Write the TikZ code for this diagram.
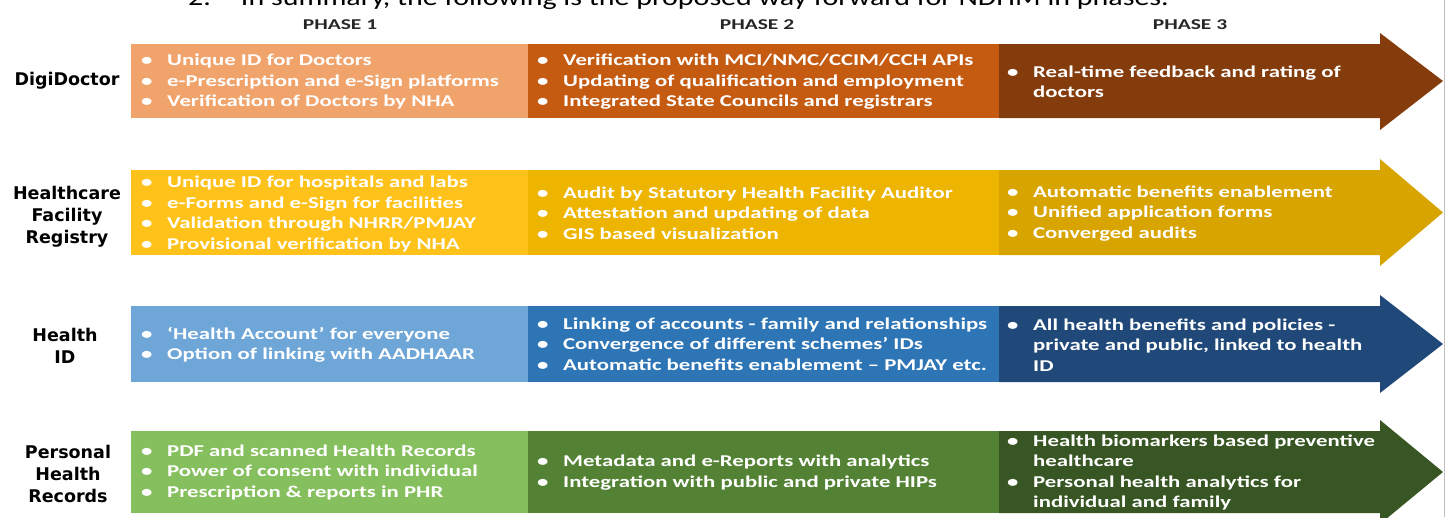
\documentclass[tikz,border=0pt]{standalone}
\usepackage{fontspec}
\setmainfont{Carlito}
\newfontfamily\boxfont[FakeStretch=1.38]{Carlito}
\newfontfamily\headfont[FakeStretch=1.25]{Carlito}
\newfontfamily\phasefont[FakeStretch=1.43]{Carlito}
\newfontfamily\labfont{DejaVu Sans}
\definecolor{oA}{HTML}{F1A36C}
\definecolor{oB}{HTML}{C55A11}
\definecolor{oC}{HTML}{843C0C}
\definecolor{yA}{HTML}{FFC21A}
\definecolor{yB}{HTML}{EDB400}
\definecolor{yC}{HTML}{D8A400}
\definecolor{bA}{HTML}{6FA6D8}
\definecolor{bB}{HTML}{2E75B6}
\definecolor{bC}{HTML}{20497A}
\definecolor{gA}{HTML}{86BF5E}
\definecolor{gB}{HTML}{548235}
\definecolor{gC}{HTML}{375623}
\definecolor{phasegray}{HTML}{262626}
\newcommand\bu{\makebox[26pt][l]{•}}
\newcommand\ind{\hspace*{26pt}}
\tikzset{
  items/.style={anchor=west, inner sep=0pt, text=white, align=left,
    font=\boxfont\bfseries\fontsize{16.5}{20.5}\selectfont},
  rowlab/.style={align=center, inner sep=0pt, text=black,
    font=\labfont\bfseries\fontsize{17.5}{22}\selectfont},
  phase/.style={inner sep=0pt, text=phasegray,
    font=\phasefont\bfseries\fontsize{15}{18}\selectfont}
}
\begin{document}
\begin{tikzpicture}[x=1pt,y=-1pt]
\clip (0,0) rectangle (1445,517);
\fill[white] (0,0) rectangle (1445,517);

% cut-off heading
\node[anchor=base west, inner sep=0pt, font=\headfont\fontsize{24}{28}\selectfont] (head) at (188,5)
  {2.\hspace{30pt}In summary, the following is the proposed way forward for NDHM in phases.};

% phase headers
\node[phase] (p1) at (340,25) {PHASE 1};
\node[phase] (p2) at (757,25) {PHASE 2};
\node[phase] (p3) at (1190,25) {PHASE 3};

% row 1
\fill[oA] (131,44) rectangle (528,118);
\fill[oB] (528,44) rectangle (999,118);
\fill[oC] (999,44) -- (1380,44) -- (1380,33) -- (1443,81) -- (1380,130) -- (1380,118) -- (999,118) -- cycle;
% row 2
\fill[yA] (131,170) rectangle (528,255);
\fill[yB] (528,170) rectangle (999,255);
\fill[yC] (999,170) -- (1380,170) -- (1380,159) -- (1443,212.5) -- (1380,266) -- (1380,255) -- (999,255) -- cycle;
% row 3
\fill[bA] (131,306) rectangle (528,382);
\fill[bB] (528,306) rectangle (999,382);
\fill[bC] (999,306) -- (1380,306) -- (1380,295) -- (1443,344) -- (1380,393) -- (1380,382) -- (999,382) -- cycle;
% row 4
\fill[gA] (131,431) rectangle (528,513);
\fill[gB] (528,431) rectangle (999,513);
\fill[gC] (999,431) -- (1380,431) -- (1380,420) -- (1443,472) -- (1380,524) -- (1380,513) -- (999,513) -- cycle;

% row labels
\node[rowlab] (l1) at (67,81) {DigiDoctor};
\node[rowlab] (l2) at (67,217) {Healthcare\\Facility\\Registry};
\node[rowlab] (l3) at (65,346) {Health\\ID};
\node[rowlab] (l4) at (68,474) {Personal\\Health\\Records};

% row 1 texts
\node[items] (t11) at (141,82) {\bu Unique ID for Doctors\\\bu e-Prescription and e-Sign platforms\\\bu Verification of Doctors by NHA};
\node[items] (t12) at (537,82) {\bu Verification with MCI/NMC/CCIM/CCH APIs\\\bu Updating of qualification and employment\\\bu Integrated State Councils and registrars};
\node[items] (t13) at (1007,82) {\bu Real-time feedback and rating of\\\ind doctors};
% row 2 texts
\node[items] (t21) at (141,214) {\bu Unique ID for hospitals and labs\\\bu e-Forms and e-Sign for facilities\\\bu Validation through NHRR/PMJAY\\\bu Provisional verification by NHA};
\node[items] (t22) at (537,213) {\bu Audit by Statutory Health Facility Auditor\\\bu Attestation and updating of data\\\bu GIS based visualization};
\node[items] (t23) at (1007,213.5) {\bu Automatic benefits enablement\\\bu Unified application forms\\\bu Converged audits};
% row 3 texts
\node[items] (t31) at (141,345) {\bu ‘Health Account’ for everyone\\\bu Option of linking with AADHAAR};
\node[items] (t32) at (537,344) {\bu Linking of accounts - family and relationships\\\bu Convergence of different schemes’ IDs\\\bu Automatic benefits enablement – PMJAY etc.};
\node[items] (t33) at (1007,345) {\bu All health benefits and policies -\\\ind private and public, linked to health\\\ind ID};
% row 4 texts
\node[items] (t41) at (141,472.5) {\bu PDF and scanned Health Records\\\bu Power of consent with individual\\\bu Prescription \& reports in PHR};
\node[items] (t42) at (537,472.5) {\bu Metadata and e-Reports with analytics\\\bu Integration with public and private HIPs};
\node[items] (t43) at (1007,472.5) {\bu Health biomarkers based preventive\\\ind healthcare\\\bu Personal health analytics for\\\ind individual and family};

\draw[black!25, line width=0.8pt] (1444,0) -- (1444,517);
\end{tikzpicture}
\end{document}
